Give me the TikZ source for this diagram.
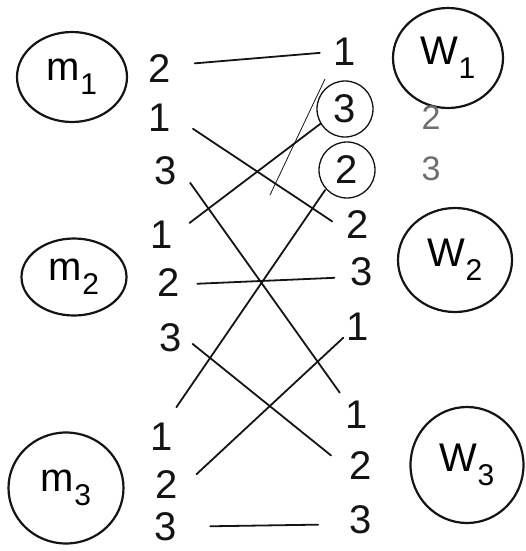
\documentclass[tikz,border=0pt]{standalone}
\usepackage{fontspec}
\setmainfont{Liberation Sans}
\usetikzlibrary{shapes.geometric}

\definecolor{inkblack}{RGB}{20, 20, 20}
\definecolor{inkgray}{RGB}{110, 110, 110}

\newcommand{\agentname}[2]{#1\raisebox{-14pt}{\fontsize{30}{30}\selectfont #2}}

\begin{document}
\begin{tikzpicture}[
    x=1pt, y=-1pt,
    agent/.style={draw=inkblack, ellipse, line width=2.2pt, inner sep=0pt,
      font=\fontsize{40}{44}\selectfont},
    rank/.style={circle, minimum size=50pt, inner sep=0pt, text=inkblack,
      font=\fontsize{40}{44}\selectfont},
    picked/.style={rank, draw=inkblack, line width=1.3pt, minimum size=56pt},
    pair/.style={draw=inkblack, line width=1.8pt, line cap=round},
  ]
    \useasboundingbox (0, 0) rectangle (525, 551);

    % --- men on the left, women on the right
    \node[agent, minimum width=110pt, minimum height=90pt]  (m1) at (72, 77)  {\agentname{m}{1}};
    \node[agent, minimum width=105pt, minimum height=77pt]  (m2) at (74, 277) {\agentname{m}{2}};
    \node[agent, minimum width=115pt, minimum height=111pt] (m3) at (66, 488) {\agentname{m}{3}};
    \node[agent, minimum width=110pt, minimum height=100pt] (w1) at (448, 58)  {\agentname{W}{1}};
    \node[agent, minimum width=114pt, minimum height=104pt] (w2) at (455, 260) {\agentname{W}{2}};
    \node[agent, minimum width=113pt, minimum height=116pt] (w3) at (467, 465) {\agentname{W}{3}};

    % --- ranks written by the men
    \foreach \n/\r/\x/\y in {1/2/160/69, 2/1/160/118, 3/3/166/171,
                             4/1/162/235, 5/2/169/283, 6/3/171/338,
                             7/1/162/437, 8/2/167/485, 9/3/166/527} {
      \node[rank] (l\n) at (\x, \y) {\r};
    }

    % --- ranks written by the women (two of them circled)
    \foreach \n/\r/\x/\y in {1/1/345/52, 4/2/358/225, 5/3/362/272,
                             6/1/358/327, 7/1/357/415, 8/2/361/466,
                             9/3/361/520} {
      \node[rank] (r\n) at (\x, \y) {\r};
    }
    \node[picked] (r2) at (345, 109) {3};
    \node[picked] (r3) at (347, 170) {2};

    % --- second column, in grey
    \node[rank, text=inkgray, font=\fontsize{34}{38}\selectfont] (g1) at (431, 118) {2};
    \node[rank, text=inkgray, font=\fontsize{34}{38}\selectfont] (g2) at (431, 169) {3};

    % --- pairings
    \draw[pair, shorten <=10pt] (l1.11) -- (r1.182);
    \draw[pair, shorten <=10pt, shorten >=1pt] (l2.-12) -- (r4.173);
    \draw[pair, shorten <=2pt, shorten >=3pt] (l3.-24) -- (r7.128);
    \draw[pair, shorten <=5pt] (l4.21) -- (r2.211);
    \draw[pair, shorten <=3pt, shorten >=3pt] (l5.-2) -- (r5.193);
    \draw[pair, shorten <=-3pt, shorten >=7pt] (l6.-18) -- (r8.166);
    \draw[pair, shorten <=8pt, shorten >=1pt] (l7.67) -- (r3.222);
    \draw[pair, shorten <=7pt, shorten >=-7pt] (l8.14) -- (r6.218);
    \draw[pair, shorten <=19pt, shorten >=18pt] (l9.1) -- (r9.190);

    % thin stroke through the circled ranks
    \coordinate (s1) at (325, 79);
    \coordinate (s2) at (270, 195);
    \draw[inkblack, line width=0.8pt] (s1) -- (s2);
  \end{tikzpicture}
\end{document}
